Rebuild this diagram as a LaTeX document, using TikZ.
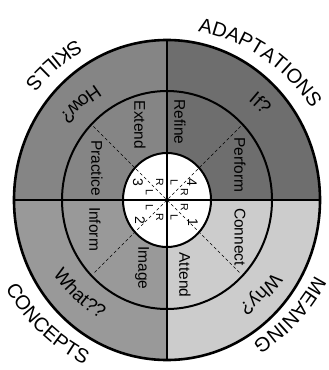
\documentclass[tikz,border=0pt]{standalone}
\usepackage{fontspec}
\setmainfont{Liberation Sans}
\usetikzlibrary{decorations.text}
\definecolor{skillgray}{gray}{0.52}
\definecolor{adaptgray}{gray}{0.43}
\definecolor{conceptgray}{gray}{0.6}
\definecolor{meaninggray}{gray}{0.8}
\newcommand{\rimfont}{\fontsize{20}{24}\selectfont}
\newcommand{\askfont}{\fontsize{19}{23}\selectfont}

\begin{document}
\begin{tikzpicture}[x=1pt, y=1pt,
  stage/.style={rotate=-90, font=\fontsize{15.5}{17}\selectfont, inner sep=0pt},
  side/.style={rotate=-90, font=\fontsize{10.5}{11}\selectfont, inner sep=0pt},
  num/.style={rotate=-90, font=\fontsize{14}{15}\selectfont, inner sep=0pt},
  arctext/.style={decorate, decoration={text along path, text align=center, text={#1}}},
  rim/.style={line width=2.6pt},
  ring/.style={line width=2pt},
  axis/.style={line width=1.6pt},
  diag/.style={line width=0.6pt, dash pattern=on 3pt off 2.5pt}
]
\useasboundingbox (-167,-170) rectangle (162,200);

\fill[adaptgray] (0,0) -- (153,0) arc[start angle=0, end angle=90, x radius=153, y radius=160] -- cycle;
\fill[skillgray] (0,0) -- (0,160) arc[start angle=90, end angle=180, x radius=153, y radius=160] -- cycle;
\fill[conceptgray] (0,0) -- (-153,0) arc[start angle=180, end angle=270, x radius=153, y radius=160] -- cycle;
\fill[meaninggray] (0,0) -- (0,-160) arc[start angle=270, end angle=360, x radius=153, y radius=160] -- cycle;
\fill[white] (0,0) ellipse [x radius=44, y radius=47];

\draw[diag] (135:104) -- (-45:104);
\draw[diag] (45:104) -- (225:104);

\draw[axis] (-153,0) -- (153,0);
\draw[axis] (0,-160) -- (0,160);
\draw[rim] (0,0) ellipse [x radius=153, y radius=160];
\draw[ring] (0,0) ellipse [x radius=105, y radius=109];
\draw[ring] (0,0) ellipse [x radius=44, y radius=47];

\path[arctext={|\rimfont|ADAPTATIONS}] (95:171) arc[start angle=95, end angle=17, radius=171];
\path[arctext={|\rimfont|MEANING}] (-13:166) arc[start angle=-13, end angle=-73, radius=166];
\path[arctext={|\rimfont|SKILLS}] (100:184) arc[start angle=100, end angle=160, radius=184];
\path[arctext={|\rimfont|CONCEPTS}] (190:184) arc[start angle=190, end angle=262, radius=184];

\path[arctext={|\askfont|If?}] (70:128) arc[start angle=70, end angle=22, radius=128];
\path[arctext={|\askfont|Why?}] (-20:128) arc[start angle=-20, end angle=-70, radius=128];
\path[arctext={|\askfont|How?}] (108:136) arc[start angle=108, end angle=156, radius=136];
\path[arctext={|\askfont|What??}] (200:136) arc[start angle=200, end angle=254, radius=136];

\node[stage] (refine) at (13,78) {Refine};
\node[stage] (perform) at (73,35) {Perform};
\node[stage] (connect) at (73,-37) {Connect};
\node[stage] (attend) at (18,-75) {Attend};
\node[stage] (image) at (-25,-68) {Image};
\node[stage] (inform) at (-72,-29) {Inform};
\node[stage] (practice) at (-70,32) {Practice};
\node[stage] (extend) at (-27,75) {Extend};

\node[side] (refside) at (67.5:19) {L};
\node[side] (perside) at (22.5:19) {R};
\node[side] (conside) at (-22.5:19) {R};
\node[side] (attside) at (-67.5:19) {L};
\node[side] (imgside) at (-112.5:19) {R};
\node[side] (infside) at (-157.5:19) {L};
\node[side] (praside) at (157.5:19) {L};
\node[side] (extside) at (112.5:19) {R};

\node[num] (four) at (25,18) {4};
\node[num] (one) at (26,-22) {1};
\node[num] (two) at (-27,-20) {2};
\node[num] (three) at (-29,18) {3};
\end{tikzpicture}
\end{document}
